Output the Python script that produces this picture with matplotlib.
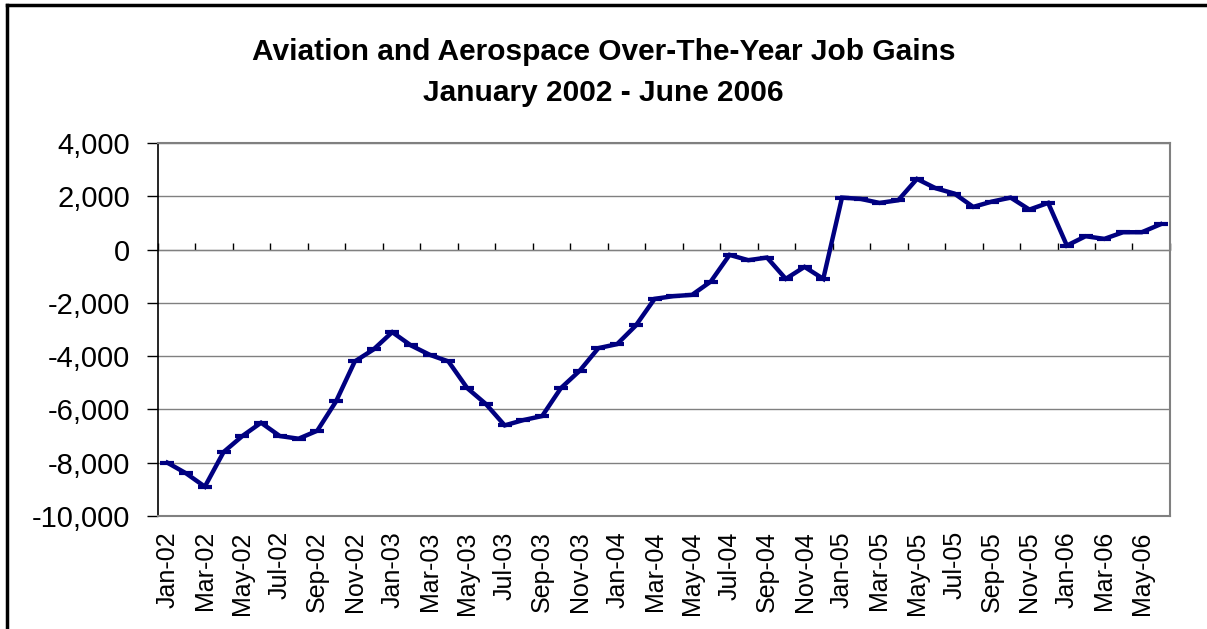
import numpy as np
import matplotlib
matplotlib.use('Agg')
import matplotlib.pyplot as plt
from matplotlib.lines import Line2D

plt.rcParams['font.family'] = ['Liberation Sans', 'DejaVu Sans']

# 数据：2002年1月 - 2006年6月 航空航天业同比就业变化
months = ['Jan', 'Feb', 'Mar', 'Apr', 'May', 'Jun',
          'Jul', 'Aug', 'Sep', 'Oct', 'Nov', 'Dec']
years = ['02', '03', '04', '05', '06']
job_gains = [
    -8000, -8400, -8900, -7600, -7000, -6500, -7000, -7100, -6800, -5700, -4200, -3750,   # 2002
    -3100, -3600, -3950, -4200, -5200, -5800, -6600, -6400, -6250, -5200, -4550, -3700,   # 2003
    -3550, -2850, -1850, -1750, -1700, -1200, -200, -400, -300, -1100, -650, -1100,       # 2004
    1950, 1900, 1750, 1850, 2650, 2300, 2100, 1600, 1800, 1950, 1500, 1750,               # 2005
    150, 500, 400, 650, 650, 950,                                                         # 2006
]
labels = [f'{m}-{y}' for y in years for m in months][:len(job_gains)]
y_ticks = [4000, 2000, 0, -2000, -4000, -6000, -8000, -10000]

x = np.arange(len(job_gains))
ymin, ymax = -10000, 4000

fig = plt.figure(figsize=(12.07, 6.29), dpi=100)
ax = fig.add_axes([0.1309, 0.1797, 0.9693 - 0.1309, 0.7727 - 0.1797])

ax.plot(x, job_gains, color='#000080', linewidth=3.2, marker='_',
        markersize=10, markeredgewidth=3, solid_joinstyle='miter', zorder=3)

ax.set_xlim(-0.5, len(job_gains) - 0.5)
ax.set_ylim(ymin, ymax)

# 网格线
ax.set_yticks(y_ticks)
ax.set_yticklabels([f'{v:,}' for v in y_ticks], fontsize=21)
ax.grid(axis='y', color='#808080', linewidth=1.0)
ax.set_axisbelow(True)
ax.tick_params(axis='y', direction='out', length=8, width=1, color='black', pad=12)

# 类别标签（每隔两个月）
ax.set_xticks(x[::2])
ax.set_xticklabels(labels[::2], rotation=90, fontsize=18)
ax.tick_params(axis='x', length=0, pad=11)

for s in ['top', 'right', 'bottom']:
    ax.spines[s].set_color('#808080')
    ax.spines[s].set_linewidth(1.5)
ax.spines['left'].set_color('black')
ax.spines['left'].set_linewidth(1.2)

# 零线上的刻度
zero_pos = (0 - ymin) / (ymax - ymin)
sec = ax.secondary_xaxis(zero_pos)
sec.set_xticks(np.arange(-0.5, len(job_gains), 2))
sec.set_xticklabels([])
sec.tick_params(direction='out', length=5, width=1, color='black')
sec.spines['bottom'].set_color('black')
sec.spines['bottom'].set_linewidth(1.2)

fig.text(0.5, 0.918, 'Aviation and Aerospace Over-The-Year Job Gains',
         ha='center', va='center', fontsize=21.5, fontweight='bold')
fig.text(0.5, 0.852, 'January 2002 - June 2006',
         ha='center', va='center', fontsize=21.5, fontweight='bold')

# 外边框
fig.add_artist(Line2D([7 / 1207, 7 / 1207], [0, 1 - 5 / 629], transform=fig.transFigure,
                      color='black', linewidth=2.5))
fig.add_artist(Line2D([7 / 1207, 1], [1 - 5 / 629, 1 - 5 / 629], transform=fig.transFigure,
                      color='black', linewidth=2.5))

fig.savefig('out.png', dpi=100)
